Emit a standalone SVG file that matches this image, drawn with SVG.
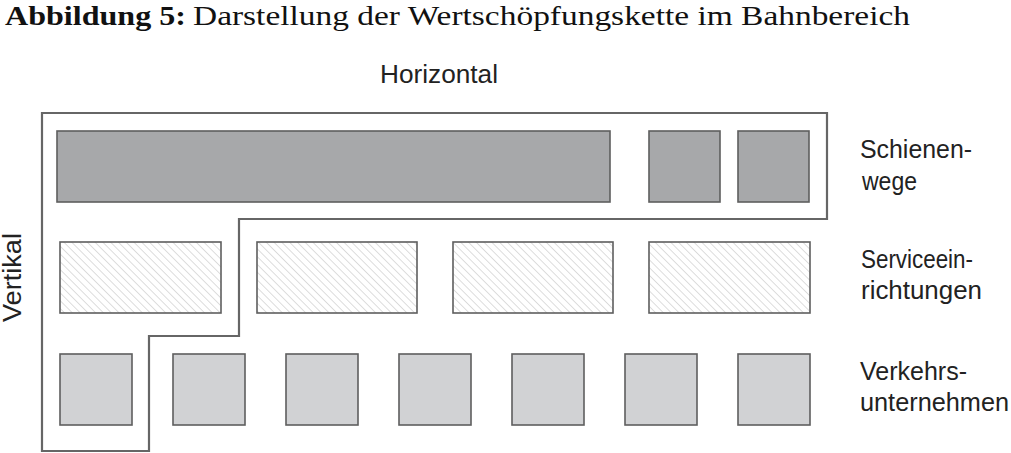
<svg xmlns="http://www.w3.org/2000/svg" width="1011" height="453" viewBox="0 0 1011 453">
  <style>
    .title { font-family: "Liberation Serif", "Times New Roman", serif; font-size: 28px; fill: #111; }
    .bold { font-weight: bold; }
    .lbl { font-family: "Liberation Sans", Arial, sans-serif; font-size: 25px; fill: #222; }
    .dark { fill: #a7a8aa; stroke: #5e5e5e; stroke-width: 1.6; }
    .light { fill: #d1d2d4; stroke: #5e5e5e; stroke-width: 1.6; }
    .hatch { fill: url(#hatch); stroke: #5e5e5e; stroke-width: 1.6; }
    .outline { fill: none; stroke: #666; stroke-width: 2.2; }
  </style>
  <defs>
    <pattern id="hatch" patternUnits="userSpaceOnUse" width="5.5" height="5.5" patternTransform="rotate(-45)">
      <rect width="5.5" height="5.5" fill="#fff"/>
      <line x1="0" y1="0" x2="0" y2="5.5" stroke="#bcbcbc" stroke-width="1"/>
    </pattern>
  </defs>
  <rect width="1011" height="453" fill="#fff"/>

  <g id="title">
    <text class="title bold" x="5" y="25" textLength="181" lengthAdjust="spacingAndGlyphs">Abbildung 5:</text>
    <text class="title" x="193" y="25" textLength="717" lengthAdjust="spacingAndGlyphs">Darstellung der Wertschöpfungskette im Bahnbereich</text>
  </g>

  <g id="axis-labels">
    <text class="lbl" x="380" y="83" textLength="118" lengthAdjust="spacingAndGlyphs">Horizontal</text>
    <text class="lbl" transform="translate(21,322) rotate(-90)" x="0" y="0" textLength="89" lengthAdjust="spacingAndGlyphs">Vertikal</text>
  </g>

  <g id="connectors">
    <path class="outline" d="M42,113 H827 V219 H239 V336 H149 V451 H42 Z"/>
  </g>

  <g id="schienenwege">
    <rect class="dark" x="57" y="131" width="553" height="71"/>
    <rect class="dark" x="649" y="131" width="71" height="71"/>
    <rect class="dark" x="738" y="131" width="71" height="71"/>
    <text class="lbl" x="860" y="158" textLength="112" lengthAdjust="spacingAndGlyphs">Schienen-</text>
    <text class="lbl" x="862" y="190" textLength="55" lengthAdjust="spacingAndGlyphs">wege</text>
  </g>

  <g id="serviceeinrichtungen">
    <rect class="hatch" x="60" y="242" width="161" height="71"/>
    <rect class="hatch" x="257" y="242" width="160" height="71"/>
    <rect class="hatch" x="453" y="242" width="160" height="71"/>
    <rect class="hatch" x="649" y="242" width="161" height="71"/>
    <text class="lbl" x="861" y="268" textLength="112" lengthAdjust="spacingAndGlyphs">Serviceein-</text>
    <text class="lbl" x="861" y="299" textLength="121" lengthAdjust="spacingAndGlyphs">richtungen</text>
  </g>

  <g id="verkehrsunternehmen">
    <rect class="light" x="60" y="354" width="72" height="71"/>
    <rect class="light" x="173" y="354" width="72" height="71"/>
    <rect class="light" x="286" y="354" width="72" height="71"/>
    <rect class="light" x="399" y="354" width="72" height="71"/>
    <rect class="light" x="512" y="354" width="72" height="71"/>
    <rect class="light" x="625" y="354" width="72" height="71"/>
    <rect class="light" x="738" y="354" width="72" height="71"/>
    <text class="lbl" x="860" y="380" textLength="107" lengthAdjust="spacingAndGlyphs">Verkehrs-</text>
    <text class="lbl" x="860" y="411" textLength="149" lengthAdjust="spacingAndGlyphs">unternehmen</text>
  </g>
</svg>
